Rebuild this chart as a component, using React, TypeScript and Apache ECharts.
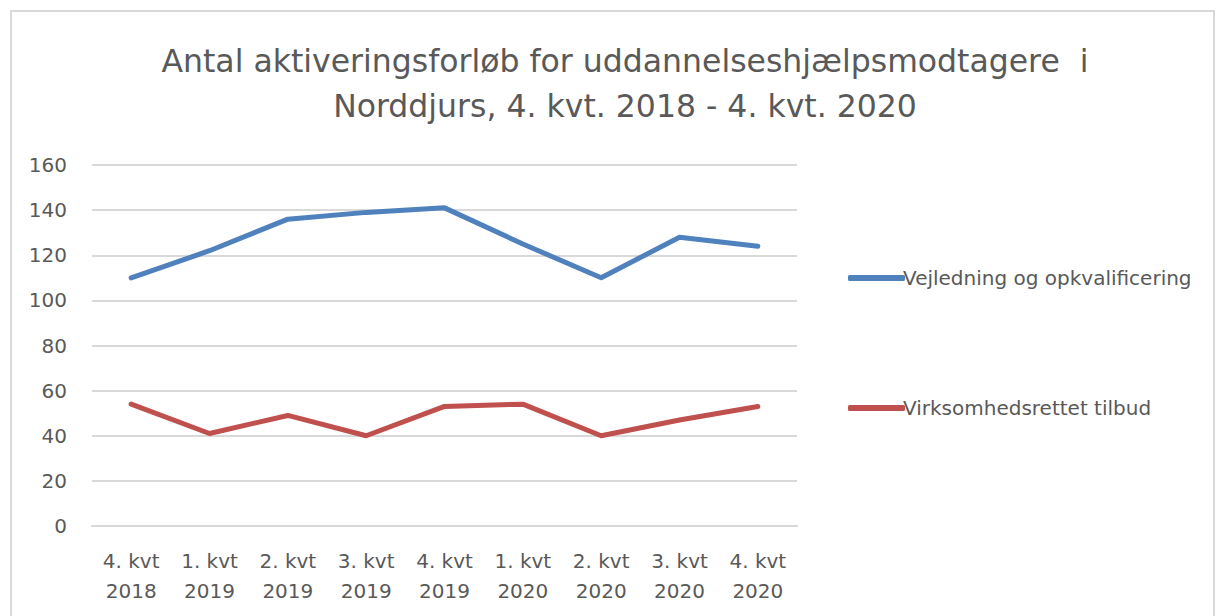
import React, { useEffect, useRef } from "react";
import * as echarts from "echarts";

const categories = [
  "4. kvt\n2018",
  "1. kvt\n2019",
  "2. kvt\n2019",
  "3. kvt\n2019",
  "4. kvt\n2019",
  "1. kvt\n2020",
  "2. kvt\n2020",
  "3. kvt\n2020",
  "4. kvt\n2020",
];
const vejledning = [110, 122, 136, 139, 141, 125, 110, 128, 124];
const virksomhed = [54, 41, 49, 40, 53, 54, 40, 47, 53];
const seriesNames = ["Vejledning og opkvalificering", "Virksomhedsrettet tilbud"];
const titleText = "Antal aktiveringsforløb for uddannelseshjælpsmodtagere  i\nNorddjurs, 4. kvt. 2018 - 4. kvt. 2020";

const FONT = "DejaVu Sans";
const TXT = "#595959";

export default function App() {
  const ref = useRef<HTMLDivElement>(null);
  useEffect(() => {
    if (!ref.current) return;
    const chart = echarts.init(ref.current, undefined, { renderer: "svg" });
    chart.setOption({
      animation: false,
      backgroundColor: "#ffffff",
      graphic: [
        {
          type: "rect",
          shape: { x: 11, y: 11, width: 1203, height: 640 },
          style: { fill: "none", stroke: "#d9d9d9", lineWidth: 2 },
          silent: true,
        },
      ],
      title: {
        text: titleText,
        left: 620,
        textAlign: "center",
        top: 33,
        textStyle: {
          fontFamily: FONT,
          fontSize: 31.5,
          fontWeight: "normal",
          color: TXT,
          lineHeight: 45,
        },
      },
      legend: {
        orient: "vertical",
        left: 843,
        top: 263,
        itemWidth: 57,
        itemHeight: 6,
        itemGap: 110,
        icon: "roundRect",
        textStyle: { fontFamily: FONT, fontSize: 20, color: TXT, padding: [0, 0, 0, -7] },
        data: seriesNames,
      },
      grid: { left: 92, right: 419, top: 165, bottom: 90, containLabel: false },
      xAxis: {
        type: "category",
        data: categories,
        boundaryGap: true,
        axisLine: { show: true, lineStyle: { color: "#d9d9d9", width: 2 } },
        axisTick: { show: false },
        axisLabel: {
          fontFamily: FONT,
          fontSize: 20,
          color: TXT,
          lineHeight: 30,
          margin: 20,
          interval: 0,
        },
      },
      yAxis: {
        type: "value",
        min: 0,
        max: 160,
        interval: 20,
        axisLine: { show: false },
        axisTick: { show: false },
        splitLine: { lineStyle: { color: "#d9d9d9", width: 2 } },
        axisLabel: { fontFamily: FONT, fontSize: 20, color: TXT, margin: 25 },
      },
      series: [
        {
          name: seriesNames[0],
          type: "line",
          data: vejledning,
          symbol: "none",
          color: "#4F81BD",
          lineStyle: { width: 5, cap: "round", join: "round" },
        },
        {
          name: seriesNames[1],
          type: "line",
          data: virksomhed,
          symbol: "none",
          color: "#C0504D",
          lineStyle: { width: 5, cap: "round", join: "round" },
        },
      ],
    });
    return () => chart.dispose();
  }, []);
  return (
    <div
      ref={ref}
      style={{ position: "absolute", left: 0, top: 0, width: 1216, height: 616 }}
    />
  );
}
